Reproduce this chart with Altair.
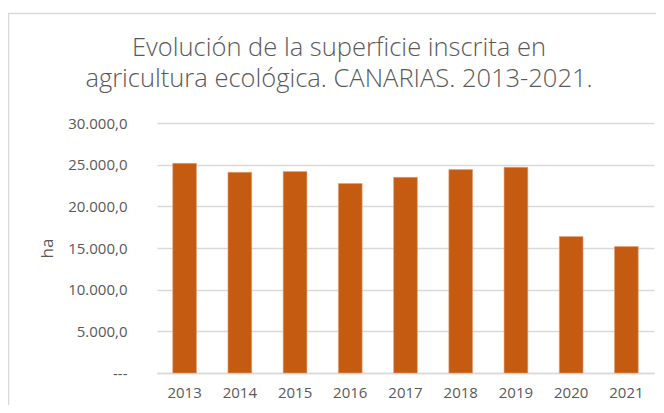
import altair as alt
import pandas as pd

years = ["2013", "2014", "2015", "2016", "2017", "2018", "2019", "2020", "2021"]
hectares = [25160, 24080, 24170, 22730, 23480, 24410, 24680, 16370, 15170]
y_ticks = [0, 5000, 10000, 15000, 20000, 25000, 30000]
title_lines = ["Evolución de la superficie inscrita en",
               "agricultura ecológica. CANARIAS. 2013-2021."]

df = pd.DataFrame({"year": years, "ha": hectares})

FONT = "Open Sans"
GREY = "#595959"
GRID = "#d9d9d9"

label_expr = (
    "datum.value == 0 ? '---' : "
    "replace(replace(replace(format(datum.value, ',.1f'), ',', '_'), '.', ','), '_', '.')"
)

bars = alt.Chart(df).mark_bar(color="#C55A11", stroke="#E2A27A", strokeWidth=0.6).encode(
    x=alt.X("year:N", sort=years,
            scale=alt.Scale(paddingInner=0.57, paddingOuter=0.285),
            axis=alt.Axis(title=None, labelAngle=0, ticks=False, domain=True,
                          domainColor=GRID, domainWidth=1.5, labelPadding=12,
                          labelFont=FONT, labelFontSize=15, labelColor=GREY)),
    y=alt.Y("ha:Q", scale=alt.Scale(domain=[0, 30000], nice=False),
            axis=alt.Axis(title="ha", values=y_ticks, labelExpr=label_expr,
                          domain=False, ticks=False, labelPadding=30,
                          gridColor=GRID, gridWidth=1.5,
                          labelFont=FONT, labelFontSize=15, labelColor=GREY,
                          titleFont=FONT, titleFontSize=17, titleFontWeight="normal",
                          titleColor=GREY, titlePadding=11)),
)

frame_df = pd.DataFrame({"k": [0]})
left_border = alt.Chart(frame_df).mark_rule(color=GRID, strokeWidth=1.5).encode(
    x=alt.value(-148.5), y=alt.value(-110), y2=alt.value(290))
top_border = alt.Chart(frame_df).mark_rule(color=GRID, strokeWidth=1.5).encode(
    x=alt.value(-148.5), x2=alt.value(505), y=alt.value(-109.5))

title_layers = [
    alt.Chart(frame_df).mark_text(text=line, font=FONT, fontSize=25.5, fontWeight=300,
                                  color=GREY, align="center", baseline="alphabetic").encode(
        x=alt.value(182), y=alt.value(yy))
    for line, yy in zip(title_lines, [-67, -36])
]

chart = alt.layer(left_border, top_border, *title_layers, bars).properties(
    width=497,
    height=250,
    autosize=alt.AutoSizeParams(type="none"),
    padding={"left": 149, "top": 115, "right": 2, "bottom": 32},
).configure_view(stroke=None)

chart.save("out.html", embed_options={"renderer": "svg", "actions": False})
